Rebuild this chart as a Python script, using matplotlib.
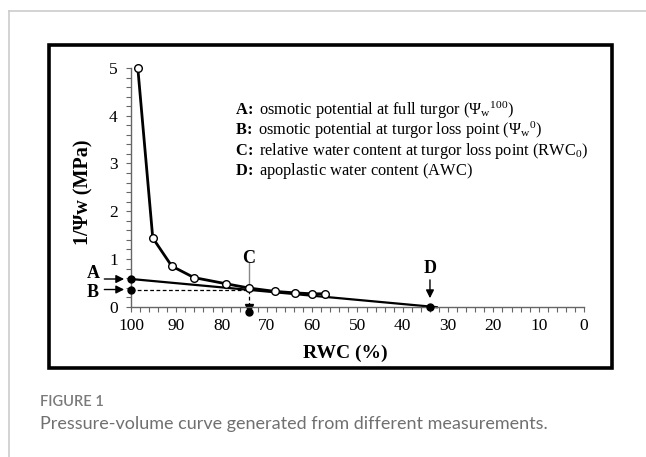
import matplotlib
matplotlib.use('Agg')
import matplotlib.pyplot as plt
from matplotlib.patches import Rectangle
from matplotlib.lines import Line2D

plt.rcParams['font.family'] = 'Liberation Serif'
plt.rcParams['mathtext.fontset'] = 'custom'
plt.rcParams['mathtext.rm'] = 'Liberation Serif'
plt.rcParams['mathtext.it'] = 'Liberation Serif:italic'
plt.rcParams['mathtext.bf'] = 'Liberation Serif:bold'

# measured points (open circles)
rwc = [98.5, 95.2, 91.0, 86.1, 79.0, 73.9, 68.2, 63.9, 60.0, 57.2]
inv_psi = [5.0, 1.44, 0.85, 0.61, 0.48, 0.39, 0.32, 0.29, 0.27, 0.27]

# straight-line fit of the linear part
fit_x = [100, 32.5]
fit_y = [0.58, -0.01]

# key points
a_val = 0.58
b_val = 0.36
c_rwc = 74
d_rwc = 34

x_ticks = [100, 90, 80, 70, 60, 50, 40, 30, 20, 10, 0]
y_ticks = [0, 1, 2, 3, 4, 5]

legend_lines = [
    r'$\mathbf{A\!:}$ osmotic potential at full turgor ($\Psi_{\mathrm{w}}{}^{100}$)',
    r'$\mathbf{B\!:}$ osmotic potential at turgor loss point ($\Psi_{\mathrm{w}}{}^{0}$)',
    r'$\mathbf{C\!:}$ relative water content at turgor loss point (RWC$_{0}$)',
    r'$\mathbf{D\!:}$ apoplastic water content (AWC)',
]

fig = plt.figure(figsize=(6.46, 4.57), dpi=100)

# page frame and black picture box
fig.add_artist(Line2D([0.0139, 0.0139], [0.976, 0.0], color='#cccccc', lw=1.2))
fig.add_artist(Line2D([0.0139, 1.0], [0.976, 0.976], color='#cccccc', lw=1.2))
fig.add_artist(Rectangle((0.0759, 0.1947), 0.8715, 0.7068, fill=False,
                         edgecolor='black', lw=2.6))

ax = fig.add_axes([0.2028, 0.3289, 0.7012, 0.5223])
ax.set_xlim(100, 0)
ax.set_ylim(0, 5)
for s in ['top', 'right']:
    ax.spines[s].set_visible(False)
for s in ['left', 'bottom']:
    ax.spines[s].set_color('#666666')
    ax.spines[s].set_linewidth(1.0)

ax.set_xticks(x_ticks)
ax.set_yticks(y_ticks)
ax.set_xticklabels([str(v) for v in x_ticks], family='Liberation Serif', fontsize=12.5)
ax.set_yticklabels([str(v) for v in y_ticks], family='Liberation Serif', fontsize=12.5)
ax.set_xticks(range(0, 101, 2), minor=True)
ax.set_yticks([i / 5 for i in range(26)], minor=True)
ax.tick_params(which='both', direction='out', length=3.5, width=0.8, color='#666666')
ax.tick_params(axis='x', pad=5)
ax.tick_params(axis='y', pad=6)

# fit line and curve
ax.plot(fit_x, fit_y, color='black', lw=1.6, clip_on=False, zorder=2)
ax.plot(rwc, inv_psi, color='black', lw=2.0, marker='o', markersize=5.5,
        markerfacecolor='white', markeredgecolor='black', markeredgewidth=1.0,
        clip_on=False, zorder=3)

# B dashed line and C guide
ax.plot([100, c_rwc], [b_val, b_val], color='black', lw=0.9, ls=(0, (3, 2)), zorder=1)
ax.plot([c_rwc, c_rwc], [0.92, 0.42], color='#888888', lw=1.0, zorder=1)
ax.plot([c_rwc, c_rwc], [b_val, 0.05], color='black', lw=0.9, ls=(0, (3, 2)), zorder=1)
ax.plot([c_rwc], [-0.02], marker='v', color='black', markersize=6, clip_on=False)
ax.plot([c_rwc], [-0.12], marker='o', color='black', markersize=5, clip_on=False)

# key points
ax.plot([100, 100], [a_val, b_val], 'o', color='black', markersize=5, clip_on=False, zorder=4)
ax.plot([d_rwc], [0], 'o', color='black', markersize=5, clip_on=False, zorder=4)

arrow = dict(arrowstyle='-|>', color='black', lw=1.0, mutation_scale=12)
ax.annotate('', xy=(100.9, a_val), xytext=(106.5, a_val), arrowprops=arrow,
            annotation_clip=False)
ax.annotate('', xy=(100.9, b_val), xytext=(106.5, b_val), arrowprops=arrow,
            annotation_clip=False)
ax.annotate('', xy=(d_rwc, 0.12), xytext=(d_rwc, 0.62), arrowprops=arrow)
ax.text(108.4, 0.70, 'A', fontsize=13, fontweight='bold', ha='center', va='center')
ax.text(108.4, 0.29, 'B', fontsize=13, fontweight='bold', ha='center', va='center')
ax.text(c_rwc, 1.0, 'C', fontsize=13, fontweight='bold', ha='center', va='center')
ax.text(d_rwc, 0.80, 'D', fontsize=13, fontweight='bold', ha='center', va='center')

for i, line in enumerate(legend_lines):
    ax.text(0.2296, 0.822 - i * 0.084, line, transform=ax.transAxes,
            fontsize=11.8, ha='left', va='center')

ax.set_xlabel('RWC (%)', fontsize=14, fontweight='bold')
ax.set_ylabel('1/Ψw (MPa)', fontsize=14.5, fontweight='bold')
ax.xaxis.set_label_coords(0.472, -0.194)
ax.xaxis.label.set_va('center')
ax.yaxis.set_label_coords(-0.106, 0.48)
ax.yaxis.label.set_va('center')

# caption
fig.text(0.062, 0.121, 'FIGURE 1', family='Lato', fontsize=10.5, color='#7a7a7a',
         va='center', fontweight='semibold')
fig.text(0.062, 0.072, 'Pressure-volume curve generated from different measurements.',
         family='Lato', fontsize=13, color='#707070', va='center')

fig.savefig('out.png', dpi=100)
